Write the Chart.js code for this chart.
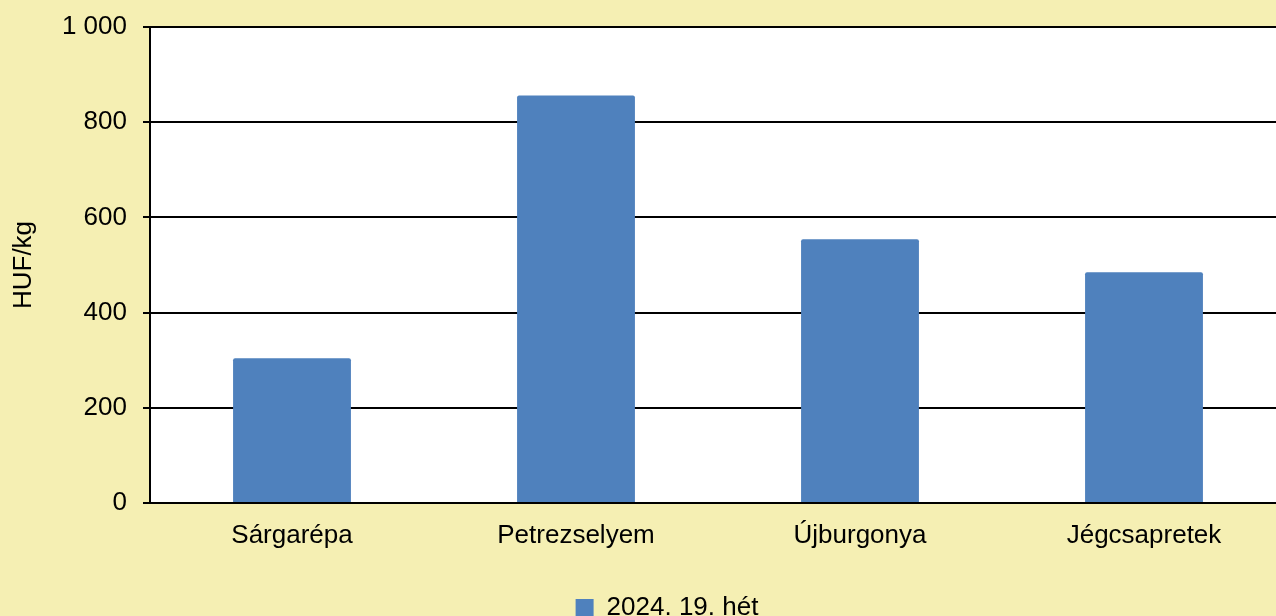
<!DOCTYPE html>
<html>
<head>
<meta charset="utf-8">
<script src="https://cdn.jsdelivr.net/npm/chart.js@4/dist/chart.umd.min.js"></script>
<style>
  html, body { margin: 0; padding: 0; background: #F5EFB3; overflow: hidden; }
  #wrap { width: 1276px; height: 616px; position: relative; overflow: hidden; }
</style>
</head>
<body>
<div id="wrap"><canvas id="c" width="1286" height="616"></canvas></div>
<script>
const categories = ['Sárgarépa', 'Petrezselyem', 'Újburgonya', 'Jégcsapretek'];
const seriesLabel = '2024. 19. hét';
const seriesValues = [304, 856, 554, 485];
const yTicks = [0, 200, 400, 600, 800, 1000];
const yTitle = 'HUF/kg';

const FONT = 'Liberation Sans, Arial, sans-serif';

const bgPlugin = {
  id: 'bgPlugin',
  beforeDraw(chart) {
    const { ctx, chartArea: a } = chart;
    ctx.save();
    ctx.fillStyle = '#F5EFB3';
    ctx.fillRect(0, 0, chart.width, chart.height);
    ctx.fillStyle = '#FFFFFF';
    ctx.fillRect(a.left, a.top, a.right - a.left, a.bottom - a.top);
    ctx.restore();
  },
  afterLayout(chart) {
    const lg = chart.legend;
    if (lg) {
      lg.left += 24; lg.right += 24;
      lg.top += 15; lg.bottom += 15;
    }
  }
};

new Chart(document.getElementById('c'), {
  type: 'bar',
  data: {
    labels: categories,
    datasets: [{
      label: seriesLabel,
      data: seriesValues,
      backgroundColor: '#4F81BD',
      borderWidth: 0,
      borderRadius: 2,
      borderSkipped: 'bottom',
      categoryPercentage: 1.0,
      barPercentage: 0.415
    }]
  },
  options: {
    responsive: false,
    animation: false,
    devicePixelRatio: 1,
    layout: { padding: { top: 27, right: 0, left: 0, bottom: 0 } },
    plugins: {
      tooltip: { enabled: false },
      legend: {
        position: 'bottom',
        labels: {
          boxWidth: 18, boxHeight: 18, padding: 10,
          color: '#000', font: { family: FONT, size: 26 }
        }
      }
    },
    scales: {
      x: {
        grid: { display: false },
        border: { display: true, color: '#000', width: 2 },
        ticks: { color: '#000', font: { family: FONT, size: 26 }, padding: 9, maxRotation: 0 },
        afterFit(scale) { scale.height = 67; }
      },
      y: {
        min: 0, max: 1000,
        afterBuildTicks(scale) { scale.ticks = yTicks.map(v => ({ value: v })); },
        grid: { color: '#000', lineWidth: 2, tickLength: 7, drawTicks: true },
        border: { display: true, color: '#000', width: 2 },
        ticks: {
          color: '#000', font: { family: FONT, size: 26 }, padding: 16,
          callback: v => String(v).replace(/\B(?=(\d{3})+(?!\d))/g, ' ')
        },
        title: {
          display: true, text: yTitle, color: '#000',
          font: { family: FONT, size: 26 }, padding: { top: 8, bottom: 0 }
        },
        afterFit(scale) {
          scale.width = 150;
          scale.paddingTop = 10;
          scale.paddingBottom = 10;
        }
      }
    }
  },
  plugins: [bgPlugin]
});
</script>
</body>
</html>
